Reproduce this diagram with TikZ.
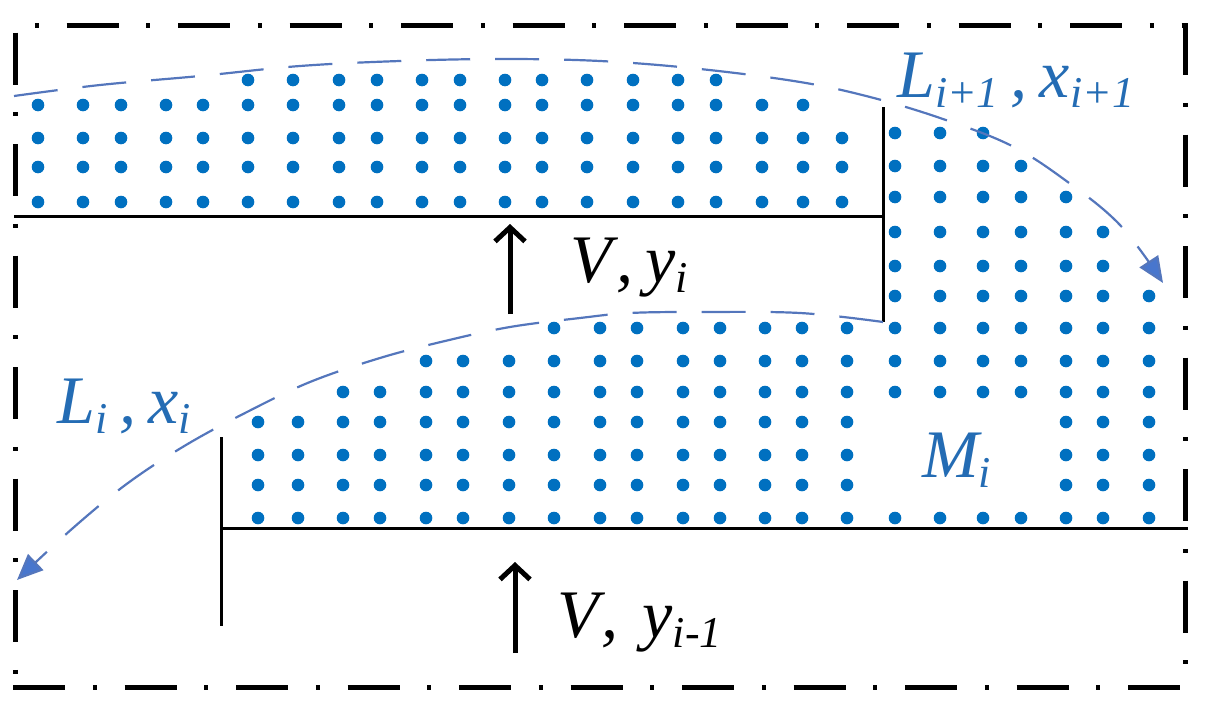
\documentclass[tikz,border=0pt]{standalone}
\usepackage{fontspec}
\setmainfont{Liberation Serif}
\usetikzlibrary{arrows.meta}

\definecolor{dotblue}{RGB}{0,112,192}
\definecolor{textblue}{RGB}{36,108,180}
\definecolor{flowblue}{RGB}{84,118,188}
\definecolor{tipblue}{RGB}{72,118,205}

% subscript as in the drawing
\newcommand{\sbs}[1]{\raisebox{-10pt}{\fontsize{44}{44}\selectfont #1}}
% one row of liquid dots at height #1
\newcommand{\dotrow}[2]{\foreach \x in {#2} {\fill[dotblue] (\x,#1) circle (6.3pt);}}

\tikzset{
  frame/.style={line width=5pt, dash pattern=on 52pt off 27.75pt on 4pt off 27.75pt},
  wall/.style={line width=3pt},
  flow/.style={flowblue, line width=2.2pt, dash pattern=on 44pt off 25pt,
    -{Triangle[length=26pt,width=22pt,fill=tipblue]}},
  vapour/.style={line width=5pt, -{Straight Barb[length=14pt,width=30pt]}},
  lbl/.style={inner sep=0pt, anchor=base west, font=\fontsize{68}{80}\selectfont\itshape},
}

\begin{document}
\begin{tikzpicture}[x=1pt,y=-1pt]
\useasboundingbox (0,0) rectangle (1211,707);

% stage boundary
\draw[frame,dash phase=59pt] (14,25) -- (1186,25);
\draw[frame,dash phase=104pt] (15,25) -- (15,688);
\draw[frame] (13,687) -- (1186,687);
\draw[frame] (1185,23) -- (1185,688);

% liquid on tray i+1
\dotrow{80}{248,293,339,377,422,460,505,542,587,633,678,716}
\dotrow{105}{38,83,121,166,203,248,293,339,377,422,460,505,542,587,633,678,716,762,803}
\foreach \y in {138,167,202}
  {\dotrow{\y}{38,83,121,166,203,248,293,339,377,422,460,505,542,587,633,678,716,762,803,842}}

% liquid in the downcomer and on tray i
\dotrow{133}{895,940,983}
\dotrow{166}{895,940,983,1021}
\dotrow{197}{895,940,983,1021,1066}
\foreach \y in {232,266}
  {\dotrow{\y}{895,940,983,1021,1066,1103}}
\dotrow{296}{895,940,983,1021,1066,1103,1149}
\dotrow{328}{554,600,637,683,720,765,802,847,895,940,983,1021,1066,1103,1149}
\dotrow{361}{426,463,509,554,600,637,683,720,765,802,847,895,940,983,1021,1066,1103,1149}
\dotrow{392}{343,380,426,463,509,554,600,637,683,720,765,802,847,895,940,983,1021,1066,1103,1149}
\foreach \y in {422,455,485}
  {\dotrow{\y}{258,298,343,380,426,463,509,554,600,637,683,720,765,802,847,1066,1103,1149}}
\dotrow{518}{258,298,343,380,426,463,509,554,600,637,683,720,765,802,847,895,940,983,1021,1066,1103,1149}

% trays and weirs
\coordinate (trayup) at (14,216);
\coordinate (weirtop) at (883,107);
\coordinate (weirfoot) at (883,322);
\draw[wall] (trayup) -- (883,216);
\draw[wall] (weirtop) -- (weirfoot);
\coordinate (traylow) at (221,528);
\draw[wall] (traylow) -- (1188,528);
\draw[wall] (221,437) -- (221,626);

% liquid flows
\draw[flow] plot[smooth,tension=0.6] coordinates {(14,96) (100,85) (200,76) (300,66) (400,61) (500,59)
  (600,61) (700,69) (800,82) (870,97) (940,118) (1010,145) (1065,180) (1120,225) (1163,283)};
\draw[flow] plot[smooth,tension=0.6] coordinates {(weirfoot) (800,313) (700,312) (630,313) (580,318)
  (510,327) (445,341) (380,358) (310,382) (247,412) (186,445) (128,483) (73,528) (17,580)};

% vapour streams
\coordinate (vupin) at (510,314);
\coordinate (vupout) at (510,224);
\draw[vapour] (vupin) -- (vupout);
\coordinate (vlowin) at (515,653);
\coordinate (vlowout) at (515,562);
\draw[vapour] (vlowin) -- (vlowout);

% labels
\node[lbl,textblue] (lup) at (897,97) {L\sbs{i+1}\kern12pt,\kern12pt x\sbs{i+1}};
\node[lbl,textblue] (lcur) at (57,423) {L\sbs{i}\kern12pt,\kern12pt x\sbs{i}};
\node[lbl] (vup) at (570,282) {V\kern5pt,\kern12pt y\sbs{i}};
\node[lbl] (vlow) at (557,637) {V\kern3pt,\kern24pt y\sbs{i-1}};
\node[lbl,textblue] (hold) at (922,477) {M\sbs{i}};
\end{tikzpicture}
\end{document}
